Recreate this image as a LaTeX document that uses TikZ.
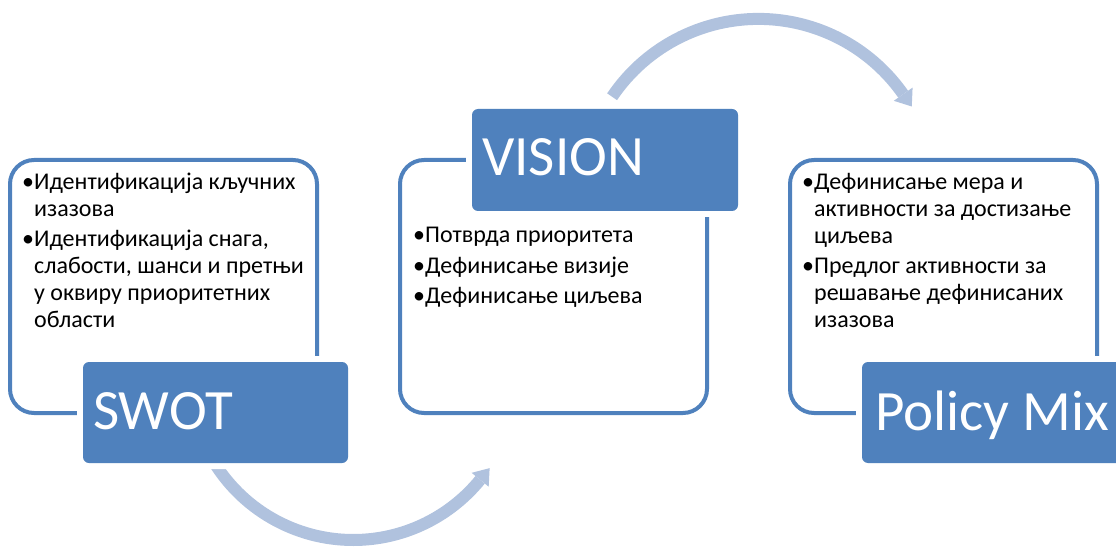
\documentclass[tikz,border=0pt]{standalone}
\usepackage{fontspec}
\setmainfont{Carlito}
\usetikzlibrary{calc}
\definecolor{boxblue}{HTML}{4F81BD}
\definecolor{arrowblue}{HTML}{B0C2DE}
\newcommand{\indbul}{\hphantom{•}}
\tikzset{
  outline/.style={draw=boxblue, line width=4pt, rounded corners=24pt,
    minimum width=307pt, minimum height=253pt, inner sep=0pt},
  titlebox/.style={fill=boxblue, rounded corners=6pt, minimum width=265pt,
    minimum height=101pt, inner sep=0pt,
    preaction={draw=white, line width=12pt}},
  titletext/.style={text=white, font=\fontsize{57}{60}\selectfont, inner sep=0pt, anchor=base west},
  bullettext/.style={font=\fontsize{24}{27}\selectfont, inner sep=0pt, anchor=base west},
  arrowline/.style={draw=arrowblue, line width=12pt, line cap=butt},
  arrowhead/.style={fill=arrowblue}
}
\begin{document}
\begin{tikzpicture}[x=1pt,y=1pt]
\useasboundingbox (0,0) rectangle (1116,547);
\clip (0,0) rectangle (1116,547);

% arrows
\coordinate (c1) at (353.3,170.7);
\coordinate (s1) at ($(c1)+(212:163.7)$);
\coordinate (m1) at ($(c1)+(320.8:163.7)$);
\draw[arrowline] (s1) arc[start angle=212, end angle=320.8, radius=163.7];
\fill[arrowhead] ($(m1)+(320.8:11)$) -- ($(m1)+(50.8:15)$) -- ($(m1)+(140.8:11)$) -- cycle;

\coordinate (c2) at (758.5,351.5);
\coordinate (s2) at ($(c2)+(146:176.6)$);
\coordinate (m2) at ($(c2)+(35:176.6)$);
\draw[arrowline] (s2) arc[start angle=146, end angle=35, radius=176.6];
\fill[arrowhead] ($(m2)+(35:11.5)$) -- ($(m2)+(-55:15)$) -- ($(m2)+(215:11.5)$) -- cycle;

% outlines
\node[outline] (swotframe) at (163.5,260.5) {};
\node[outline] (visionframe) at (553.5,260.5) {};
\node[outline] (policyframe) at (943.5,260.5) {};

% title boxes
\node[titlebox] (swotbox) at (215.5,134.5) {};
\node[titlebox, minimum width=266pt, minimum height=102pt] (visionbox) at (605,387) {};
\node[titlebox] (policybox) at (994.5,134.5) {};

\node[titletext] (swot) at (93,118) {SWOT};
\node[titletext] (vision) at (482,371) {VISION};
\node[titletext] (policy) at (875,117) {Policy Mix};

% bullet texts
\node[bullettext] (swottext) at (22,357) {\begin{tabular}[t]{@{}l@{}}
•Идентификација кључних\\
\indbul изазова\\[3pt]
•Идентификација снага,\\
\indbul слабости, шанси и претњи\\
\indbul у оквиру приоритетних\\
\indbul области
\end{tabular}};

\node[bullettext] (visiontext) at (413,304) {\begin{tabular}[t]{@{}l@{}}
•Потврда приоритета\\[3pt]
•Дефинисање визије\\[3pt]
•Дефинисање циљева
\end{tabular}};

\node[bullettext] (policytext) at (802,357) {\begin{tabular}[t]{@{}l@{}}
•Дефинисање мера и\\
\indbul активности за достизање\\
\indbul циљева\\[3pt]
•Предлог активности за\\
\indbul решавање дефинисаних\\
\indbul изазова
\end{tabular}};
\end{tikzpicture}
\end{document}
